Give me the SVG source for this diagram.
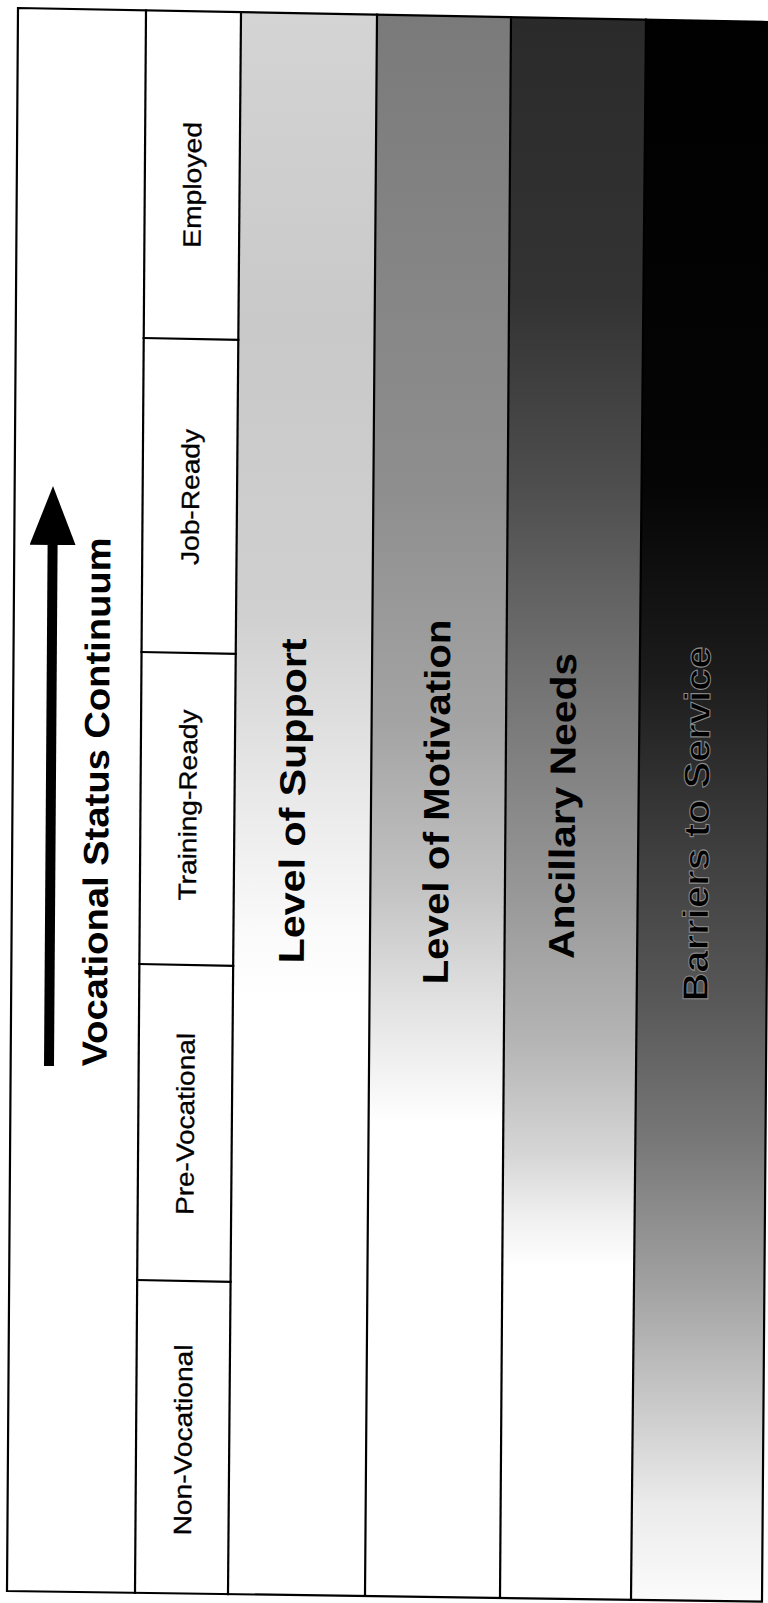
<svg xmlns="http://www.w3.org/2000/svg" width="768" height="1603" viewBox="0 0 768 1603">
  <style>
    .ln { fill: none; stroke: #000; stroke-width: 2.2; stroke-linecap: square; }
    .lbl { font-family: "Liberation Sans", Arial, Helvetica, sans-serif; font-size: 25px; fill: #000; stroke: #000; stroke-width: 0.3; }
    .big { font-family: "Liberation Sans", Arial, Helvetica, sans-serif; font-weight: bold; font-size: 36px; fill: #000; }
    .ttl { font-family: "Liberation Sans", Arial, Helvetica, sans-serif; font-weight: bold; font-size: 35px; fill: #000; }
    .halo { stroke: #8a8a8a; stroke-width: 1; }
  </style>
  <defs>
    <linearGradient id="gSupport" gradientUnits="userSpaceOnUse" x1="0" y1="10" x2="0" y2="1600">
      <stop offset="0" stop-color="#d4d4d4"/>
      <stop offset="0.2" stop-color="#c9c9c9"/>
      <stop offset="0.38" stop-color="#d0d0d0"/>
      <stop offset="0.5" stop-color="#eaeaea"/>
      <stop offset="0.58" stop-color="#fafafa"/>
      <stop offset="0.62" stop-color="#ffffff"/>
    </linearGradient>
    <linearGradient id="gMotiv" gradientUnits="userSpaceOnUse" x1="0" y1="10" x2="0" y2="1600">
      <stop offset="0" stop-color="#7a7a7a"/>
      <stop offset="0.3" stop-color="#8e8e8e"/>
      <stop offset="0.45" stop-color="#a4a4a4"/>
      <stop offset="0.55" stop-color="#c2c2c2"/>
      <stop offset="0.62" stop-color="#e0e0e0"/>
      <stop offset="0.68" stop-color="#f7f7f7"/>
      <stop offset="0.7" stop-color="#ffffff"/>
    </linearGradient>
    <linearGradient id="gAnc" gradientUnits="userSpaceOnUse" x1="0" y1="10" x2="0" y2="1600">
      <stop offset="0" stop-color="#2a2a2a"/>
      <stop offset="0.18" stop-color="#333333"/>
      <stop offset="0.3" stop-color="#4e4e4e"/>
      <stop offset="0.43" stop-color="#757575"/>
      <stop offset="0.55" stop-color="#969696"/>
      <stop offset="0.65" stop-color="#b5b5b5"/>
      <stop offset="0.72" stop-color="#d6d6d6"/>
      <stop offset="0.76" stop-color="#f0f0f0"/>
      <stop offset="0.79" stop-color="#ffffff"/>
    </linearGradient>
    <linearGradient id="gBarr" gradientUnits="userSpaceOnUse" x1="0" y1="10" x2="0" y2="1600">
      <stop offset="0" stop-color="#000000"/>
      <stop offset="0.3" stop-color="#050505"/>
      <stop offset="0.42" stop-color="#1c1c1c"/>
      <stop offset="0.52" stop-color="#3c3c3c"/>
      <stop offset="0.62" stop-color="#575757"/>
      <stop offset="0.71" stop-color="#777777"/>
      <stop offset="0.8" stop-color="#a0a0a0"/>
      <stop offset="0.88" stop-color="#cbcbcb"/>
      <stop offset="0.94" stop-color="#ebebeb"/>
      <stop offset="1" stop-color="#fbfbfb"/>
    </linearGradient>
    <marker id="head" markerUnits="userSpaceOnUse" markerWidth="60" markerHeight="48" refX="0" refY="23" orient="auto">
      <path d="M0,0 L59,23 L0,46 z" fill="#000"/>
    </marker>
  </defs>

  <rect x="0" y="0" width="768" height="1603" fill="#fff"/>

  <!-- shaded bands -->
  <g id="band-support">
    <polygon points="241,12.2 377,14.7 365,1596 228,1594.1" fill="url(#gSupport)"/>
    <text class="big" transform="translate(305,801) rotate(-89.57)" text-anchor="middle" textLength="325" lengthAdjust="spacingAndGlyphs">Level of Support</text>
  </g>
  <g id="band-motivation">
    <polygon points="377,14.7 511,17.2 500,1597.9 365,1596" fill="url(#gMotiv)"/>
    <text class="big" transform="translate(449,802) rotate(-89.57)" text-anchor="middle" textLength="365" lengthAdjust="spacingAndGlyphs">Level of Motivation</text>
  </g>
  <g id="band-ancillary">
    <polygon points="511,17.2 646,19.7 631,1599.7 500,1597.9" fill="url(#gAnc)"/>
    <text class="big" transform="translate(575,806) rotate(-89.57)" text-anchor="middle" textLength="306" lengthAdjust="spacingAndGlyphs">Ancillary Needs</text>
  </g>
  <g id="band-barriers">
    <polygon points="646,19.7 774,22.1 762,1601.6 631,1599.7" fill="url(#gBarr)"/>
    <text class="big halo" transform="translate(709,824) rotate(-89.57)" text-anchor="middle" textLength="355" lengthAdjust="spacingAndGlyphs">Barriers to Service</text>
  </g>

  <!-- frame and grid lines -->
  <g id="grid">
    <polygon class="ln" points="18,8 774,22.1 762,1601.6 7,1591"/>
    <line class="ln" x1="146" y1="10.4" x2="135" y2="1592.8"/>
    <line class="ln" x1="241" y1="12.2" x2="228" y2="1594.1"/>
    <line class="ln" x1="377" y1="14.7" x2="365" y2="1596"/>
    <line class="ln" x1="511" y1="17.2" x2="500" y2="1597.9"/>
    <line class="ln" x1="646" y1="19.7" x2="631" y2="1599.7"/>
    <line class="ln" x1="143.7" y1="338" x2="238.3" y2="339.8"/>
    <line class="ln" x1="141.5" y1="652" x2="235.7" y2="653.8"/>
    <line class="ln" x1="139.4" y1="964" x2="233.2" y2="965.8"/>
    <line class="ln" x1="137.2" y1="1280" x2="230.6" y2="1281.8"/>
  </g>

  <!-- status labels -->
  <g id="status-employed">
    <text class="lbl" transform="translate(201,185) rotate(-89.57)" text-anchor="middle" textLength="126" lengthAdjust="spacingAndGlyphs">Employed</text>
  </g>
  <g id="status-job-ready">
    <text class="lbl" transform="translate(199,497) rotate(-89.57)" text-anchor="middle" textLength="136" lengthAdjust="spacingAndGlyphs">Job-Ready</text>
  </g>
  <g id="status-training-ready">
    <text class="lbl" transform="translate(196.5,805) rotate(-89.57)" text-anchor="middle" textLength="191" lengthAdjust="spacingAndGlyphs">Training-Ready</text>
  </g>
  <g id="status-pre-vocational">
    <text class="lbl" transform="translate(194,1124) rotate(-89.57)" text-anchor="middle" textLength="182" lengthAdjust="spacingAndGlyphs">Pre-Vocational</text>
  </g>
  <g id="status-non-vocational">
    <text class="lbl" transform="translate(191.7,1440) rotate(-89.57)" text-anchor="middle" textLength="191" lengthAdjust="spacingAndGlyphs">Non-Vocational</text>
  </g>

  <!-- title -->
  <g id="title">
    <text class="ttl" transform="translate(108.5,802) rotate(-89.57)" text-anchor="middle" textLength="529" lengthAdjust="spacingAndGlyphs">Vocational Status Continuum</text>
  </g>

  <!-- connectors -->
  <g id="connectors">
    <line x1="49" y1="1066" x2="52.6" y2="545" stroke="#000" stroke-width="10" marker-end="url(#head)"/>
  </g>
</svg>
